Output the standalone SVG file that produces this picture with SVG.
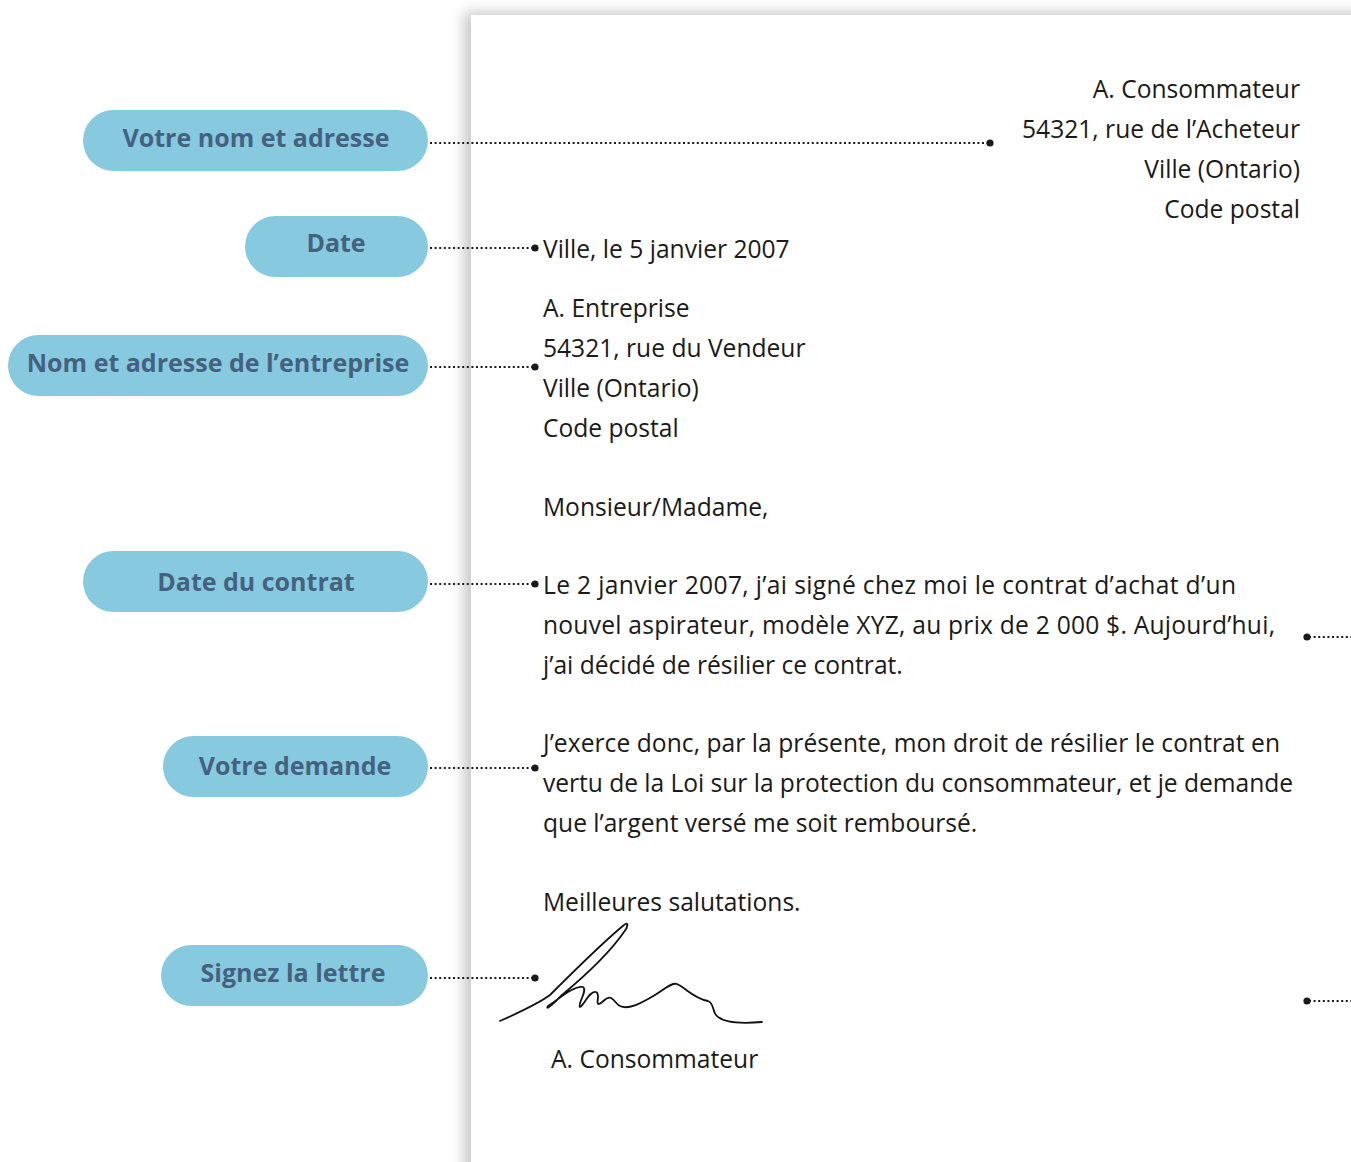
<svg xmlns="http://www.w3.org/2000/svg" width="1351" height="1162" viewBox="0 0 1351 1162">
<defs>
<filter id="sh" x="-10%" y="-10%" width="120%" height="120%">
<feDropShadow dx="-7" dy="-3" stdDeviation="7" flood-color="#000" flood-opacity="0.22"/>
</filter>
<style>
.pill{fill:#87CAE0}
.pt{font-family:"Open Sans","Noto Sans",sans-serif;font-weight:bold;font-size:25px;fill:#44627F;text-anchor:middle}
.tx{font-family:"Open Sans","Noto Sans",sans-serif;font-size:24.6px;fill:#1a1a1a}
.r{text-anchor:end}
.dl{stroke:#1a1a1a;stroke-width:2;stroke-dasharray:2 2.6;fill:none}
.dot{fill:#1a1a1a}
</style>
</defs>
<rect width="1351" height="1162" fill="#fff"/>
<rect x="471" y="15" width="1000" height="1200" fill="#fff" filter="url(#sh)"/>

<g id="connectors">
<path class="dl" d="M430 143H988"/><circle class="dot" cx="990" cy="143" r="3.6"/>
<path class="dl" d="M430 248H533"/><circle class="dot" cx="535" cy="248" r="3.6"/>
<path class="dl" d="M430 367H533"/><circle class="dot" cx="535" cy="367" r="3.6"/>
<path class="dl" d="M430 584H533"/><circle class="dot" cx="535" cy="584" r="3.6"/>
<path class="dl" d="M430 768H533"/><circle class="dot" cx="535" cy="768" r="3.6"/>
<path class="dl" d="M430 978H533"/><circle class="dot" cx="535" cy="978" r="3.6"/>
<path class="dl" d="M1309 637H1351"/><circle class="dot" cx="1307" cy="637" r="3.6"/>
<path class="dl" d="M1309 1001H1351"/><circle class="dot" cx="1307" cy="1001" r="3.6"/>
</g>

<g id="n1"><rect class="pill" x="83" y="110" width="345" height="61" rx="30.5"/><text class="pt" x="256" y="147">Votre nom et adresse</text></g>
<g id="n2"><rect class="pill" x="245" y="216" width="183" height="61" rx="30.5"/><text class="pt" x="336" y="252">Date</text></g>
<g id="n3"><rect class="pill" x="8" y="335" width="420" height="61" rx="30.5"/><text class="pt" x="218" y="372">Nom et adresse de l’entreprise</text></g>
<g id="n4"><rect class="pill" x="83" y="551" width="345" height="61" rx="30.5"/><text class="pt" x="256" y="591">Date du contrat</text></g>
<g id="n5"><rect class="pill" x="163" y="736" width="265" height="61" rx="30.5"/><text class="pt" x="295" y="775">Votre demande</text></g>
<g id="n6"><rect class="pill" x="161" y="945" width="267" height="61" rx="30.5"/><text class="pt" x="293" y="982">Signez la lettre</text></g>

<g id="letter">
<text class="tx r" x="1300" y="98">A. Consommateur</text>
<text class="tx r" x="1300" y="138">54321, rue de l’Acheteur</text>
<text class="tx r" x="1300" y="178">Ville (Ontario)</text>
<text class="tx r" x="1300" y="218">Code postal</text>
<text class="tx" x="543" y="258">Ville, le 5 janvier 2007</text>
<text class="tx" x="543" y="317">A. Entreprise</text>
<text class="tx" x="543" y="357">54321, rue du Vendeur</text>
<text class="tx" x="543" y="397">Ville (Ontario)</text>
<text class="tx" x="543" y="437">Code postal</text>
<text class="tx" x="543" y="516">Monsieur/Madame,</text>
<text class="tx" x="543" y="594" textLength="693" lengthAdjust="spacing">Le 2 janvier 2007, j’ai signé chez moi le contrat d’achat d’un</text>
<text class="tx" x="543" y="634" textLength="732" lengthAdjust="spacing">nouvel aspirateur, modèle XYZ, au prix de 2 000 $. Aujourd’hui,</text>
<text class="tx" x="543" y="674">j’ai décidé de résilier ce contrat.</text>
<text class="tx" x="543" y="752" textLength="737" lengthAdjust="spacing">J’exerce donc, par la présente, mon droit de résilier le contrat en</text>
<text class="tx" x="543" y="792" textLength="750" lengthAdjust="spacing">vertu de la Loi sur la protection du consommateur, et je demande</text>
<text class="tx" x="543" y="832">que l’argent versé me soit remboursé.</text>
<text class="tx" x="543" y="911">Meilleures salutations.</text>
<path d="M500 1021 C520 1012 538 1004 550 995 C570 975 602 943 624 925 C629 921 628 927 624 932 C608 955 580 980 562 995 C552 1005 545 1011 548 1006 C560 998 575 985 583 987 C588 990 577 1005 580 1007 C584 1005 590 990 596 992 C601 994 595 1004 599 1004 C603 1003 606 996 611 998 C615 1000 617 1005 620 1006 C628 1010 640 1004 655 995 C665 989 672 982 677 984 C686 988 693 998 708 1001 C714 1003 712 1010 716 1015 C722 1022 740 1024 762 1022" fill="none" stroke="#111" stroke-width="1.8" stroke-linecap="round" stroke-linejoin="round"/>
<text class="tx" x="551" y="1068">A. Consommateur</text>
</g>
</svg>
